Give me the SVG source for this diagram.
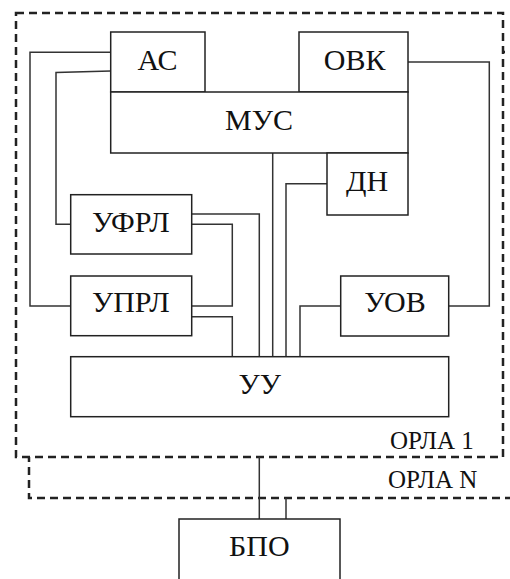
<svg xmlns="http://www.w3.org/2000/svg" width="510" height="579" viewBox="0 0 510 579" xml:lang="ru">
<style>
.dash{fill:#fff;stroke:#222;stroke-width:2.5;stroke-dasharray:8 5}
.box{fill:#fff;stroke:#222;stroke-width:1.5}
.ln{fill:none;stroke:#333;stroke-width:1.5}
</style>
<rect width="510" height="579" fill="#fff"/>
<g id="orla-n">
<rect class="dash" x="29" y="52" width="500" height="446"/>
<text x="388" y="488" font-family="Liberation Serif, DejaVu Serif, serif" font-size="25" fill="#111">ОРЛА N</text>
</g>
<g id="orla-1">
<rect class="dash" x="16" y="13" width="487" height="444"/>
<text x="390" y="449" font-family="Liberation Serif, DejaVu Serif, serif" font-size="25" fill="#111">ОРЛА 1</text>
</g>
<g id="connectors">
<polyline class="ln" points="110.7,52.3 30,52.3 30,306 70.7,306"/>
<polyline class="ln" points="110.7,71 56,72.5 56,224.3 70.7,224.3"/>
<polyline class="ln" points="191.7,214 259.3,214 259.3,356.7"/>
<polyline class="ln" points="191.7,224.3 232.3,224.3 232.3,306 191.7,306"/>
<polyline class="ln" points="191.7,316.7 232.3,316.7 232.3,356.7"/>
<line class="ln" x1="272.7" y1="153" x2="272.7" y2="356.7"/>
<polyline class="ln" points="327,183.7 286,183.7 286,356.7"/>
<polyline class="ln" points="340.7,306 300,306 300,356.7"/>
<polyline class="ln" points="448.7,306 489.3,306 489.3,62 408,62"/>
<line class="ln" x1="259.3" y1="457" x2="259.3" y2="519"/>
<line class="ln" x1="286" y1="498" x2="286" y2="519"/>
</g>
<g id="as"><rect class="box" x="110.7" y="32" width="94.3" height="60"/><text x="157.5" y="70" font-family="Liberation Serif, DejaVu Serif, serif" font-size="30" text-anchor="middle" fill="#111">АС</text></g>
<g id="ovk"><rect class="box" x="299" y="32" width="109" height="60"/><text x="354.7" y="69.5" font-family="Liberation Serif, DejaVu Serif, serif" font-size="30" text-anchor="middle" fill="#111">ОВК</text></g>
<g id="mus"><rect class="box" x="110.7" y="92" width="297.3" height="61"/><text x="259" y="129.5" font-family="Liberation Serif, DejaVu Serif, serif" font-size="30" text-anchor="middle" fill="#111">МУС</text></g>
<g id="dn"><rect class="box" x="327" y="153" width="81" height="62"/><text x="367" y="190.5" font-family="Liberation Serif, DejaVu Serif, serif" font-size="30" text-anchor="middle" fill="#111">ДН</text></g>
<g id="ufrl"><rect class="box" x="70.7" y="194.7" width="121" height="59.3"/><text x="130.8" y="232" font-family="Liberation Serif, DejaVu Serif, serif" font-size="30" text-anchor="middle" fill="#111">УФРЛ</text></g>
<g id="uprl"><rect class="box" x="70.7" y="276" width="121" height="59.7"/><text x="130.8" y="312" font-family="Liberation Serif, DejaVu Serif, serif" font-size="30" text-anchor="middle" fill="#111">УПРЛ</text></g>
<g id="uov"><rect class="box" x="340.7" y="276" width="108" height="60"/><text x="395" y="312" font-family="Liberation Serif, DejaVu Serif, serif" font-size="30" text-anchor="middle" fill="#111">УОВ</text></g>
<g id="uu"><rect class="box" x="70.7" y="356.7" width="378" height="60"/><text x="259.7" y="393.5" font-family="Liberation Serif, DejaVu Serif, serif" font-size="30" text-anchor="middle" fill="#111">УУ</text></g>
<g id="bpo"><rect class="box" x="179" y="519" width="161" height="70"/><text x="259.3" y="555.5" font-family="Liberation Serif, DejaVu Serif, serif" font-size="30" text-anchor="middle" fill="#111">БПО</text></g>
</svg>
